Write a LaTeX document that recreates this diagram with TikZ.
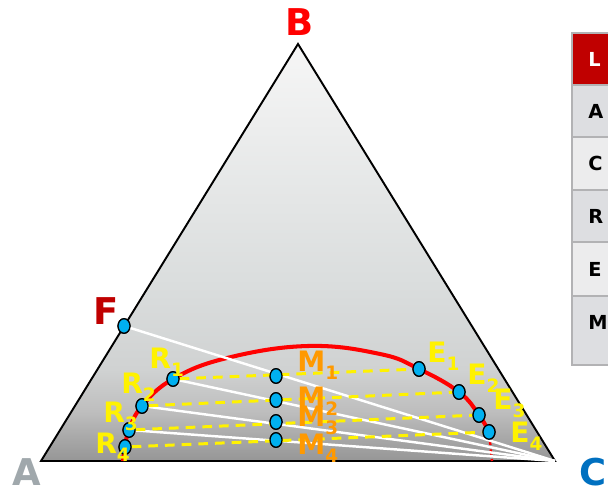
\documentclass[tikz,border=0pt]{standalone}
\usepackage{fontspec}
\setmainfont{DejaVu Sans}
\usetikzlibrary{shapes.geometric}
\definecolor{markcyan}{RGB}{0,176,240}
\definecolor{mixorange}{RGB}{255,153,0}
\definecolor{feedred}{RGB}{192,0,0}
\definecolor{solventblue}{RGB}{0,112,192}
\definecolor{diluentgray}{RGB}{160,168,172}
\definecolor{cellborder}{RGB}{178,178,180}
\definecolor{celldark}{RGB}{221,222,225}
\definecolor{celllight}{RGB}{236,236,237}
\definecolor{g0}{RGB}{150,150,150}
\definecolor{g1}{RGB}{166,166,166}
\definecolor{g2}{RGB}{190,190,190}
\definecolor{g3}{RGB}{208,210,210}
\definecolor{g4}{RGB}{218,221,221}
\definecolor{g5}{RGB}{246,246,246}
\pgfdeclareverticalshading{phasefill}{100bp}{color(0bp)=(g0); color(25bp)=(g0);
  color(27.5bp)=(g1); color(31bp)=(g2); color(36bp)=(g3); color(46bp)=(g4);
  color(75bp)=(g5); color(100bp)=(g5)}
\newcommand{\lowidx}[1]{\raisebox{-4.5pt}{\fontsize{10.5}{10.5}\selectfont #1}}

\begin{document}
\begin{tikzpicture}[x=0.02cm, y=0.02cm,
    pt/.style={ellipse, draw=black, line width=0.7pt, fill=markcyan,
        minimum width=0.24cm, minimum height=0.29cm, inner sep=0pt},
    tie/.style={yellow, line width=1.7pt, dash pattern=on 5.5pt off 4pt},
    feedline/.style={white, line width=1.4pt},
    binodal/.style={red, line width=2.3pt},
    rlbl/.style={anchor=base west, inner sep=0pt, text=yellow,
        font=\fontsize{16}{16}\selectfont\bfseries},
    mlbl/.style={rlbl, text=mixorange},
    corner/.style={inner sep=0pt, font=\fontsize{21}{22}\selectfont\bfseries},
    cell/.style={draw=cellborder, line width=0.9pt},
    celltxt/.style={anchor=west, inner sep=0pt, font=\fontsize{11}{11}\selectfont\bfseries}
]
    \useasboundingbox (0,0) rectangle (608,493);

    % triangle
    \coordinate (A) at (41,32);
    \coordinate (B) at (298,449);
    \coordinate (C) at (555,32);
    \shade[shading=phasefill] (A) -- (B) -- (C) -- cycle;
    \draw[line width=1.1pt, line join=miter] (A) -- (B) -- (C) -- cycle;

    \node[corner, text=red]         (b) at (300,471) {B};
    \node[corner, text=diluentgray] (a) at (27,21)   {A};
    \node[corner, text=solventblue] (c) at (593,21)  {C};
    \node[corner, text=feedred]     (f lbl) at (106,182) {F};

    % points
    \node[pt] (f)  at (124,167) {};
    \node[pt] (r1) at (173,114) {};
    \node[pt] (r2) at (142,87)  {};
    \node[pt] (r3) at (129,63)  {};
    \node[pt] (r4) at (125,46)  {};
    \node[pt] (m1) at (276,117) {};
    \node[pt] (m2) at (276,93)  {};
    \node[pt] (m3) at (276,71)  {};
    \node[pt] (m4) at (276,53)  {};
    \node[pt] (e1) at (419,124) {};
    \node[pt] (e2) at (459,101) {};
    \node[pt] (e3) at (479,78)  {};
    \node[pt] (e4) at (489,61)  {};
    \coordinate (rfoot) at (123,32);
    \coordinate (efoot) at (492,32);

    \draw[binodal] plot[smooth, tension=0.7] coordinates {(rfoot) (r4) (r3) (r2) (r1)
        (227,135) (308,147) (380,139) (e1) (e2) (e3) (e4)};
    \draw[red, line width=1.4pt, dash pattern=on 3pt off 2.5pt] (e4) -- (efoot);

    \draw[feedline] (f)  -- (C);
    \draw[feedline] (r1) -- (C);
    \draw[feedline] (r2) -- (C);
    \draw[feedline] (r3) -- (C);

    \draw[tie] (r1) -- (e1);
    \draw[tie] (r2) -- (e2);
    \draw[tie] (r3) -- (e3);
    \draw[tie] (r4) -- (e4);

    % markers again, on top of the lines
    \foreach \x/\y in {124/167, 173/114, 142/87, 129/63, 125/46,
        276/117, 276/93, 276/71, 276/53, 419/124, 459/101, 479/78, 489/61}
        \node[pt] at (\x,\y) {};

    % labels
    \node[rlbl] (r1 lbl) at (149,124) {R\lowidx{1}};
    \node[rlbl] (r2 lbl) at (121,99)  {R\lowidx{2}};
    \node[rlbl] (r3 lbl) at (103,70)  {R\lowidx{3}};
    \node[rlbl] (r4 lbl) at (95,39)   {R\lowidx{4}};
    \node[mlbl] (m1 lbl) at (297,121) {M\lowidx{1}};
    \node[mlbl] (m2 lbl) at (297,85)  {M\lowidx{2}};
    \node[mlbl] (m3 lbl) at (297,66)  {M\lowidx{3}};
    \node[mlbl] (m4 lbl) at (297,38)  {M\lowidx{4}};
    \node[rlbl] (e1 lbl) at (427,130) {E\lowidx{1}};
    \node[rlbl] (e2 lbl) at (467,108) {E\lowidx{2}};
    \node[rlbl] (e3 lbl) at (493,83)  {E\lowidx{3}};
    \node[rlbl] (e4 lbl) at (510,50)  {E\lowidx{4}};

    % legend table
    \draw[cell, fill=feedred]   (572,460) rectangle (720,408);
    \draw[cell, fill=celldark]  (572,408) rectangle (720,356);
    \draw[cell, fill=celllight] (572,356) rectangle (720,303);
    \draw[cell, fill=celldark]  (572,303) rectangle (720,251);
    \draw[cell, fill=celllight] (572,251) rectangle (720,197);
    \draw[cell, fill=celldark]  (572,197) rectangle (720,128);
    \node[celltxt, text=white] (t0) at (588,434) {L};
    \node[celltxt] (t1) at (588,382) {A};
    \node[celltxt] (t2) at (588,330) {C};
    \node[celltxt] (t3) at (588,277) {R};
    \node[celltxt] (t4) at (588,224) {E};
    \node[celltxt] (t5) at (588,171) {M};
\end{tikzpicture}
\end{document}
